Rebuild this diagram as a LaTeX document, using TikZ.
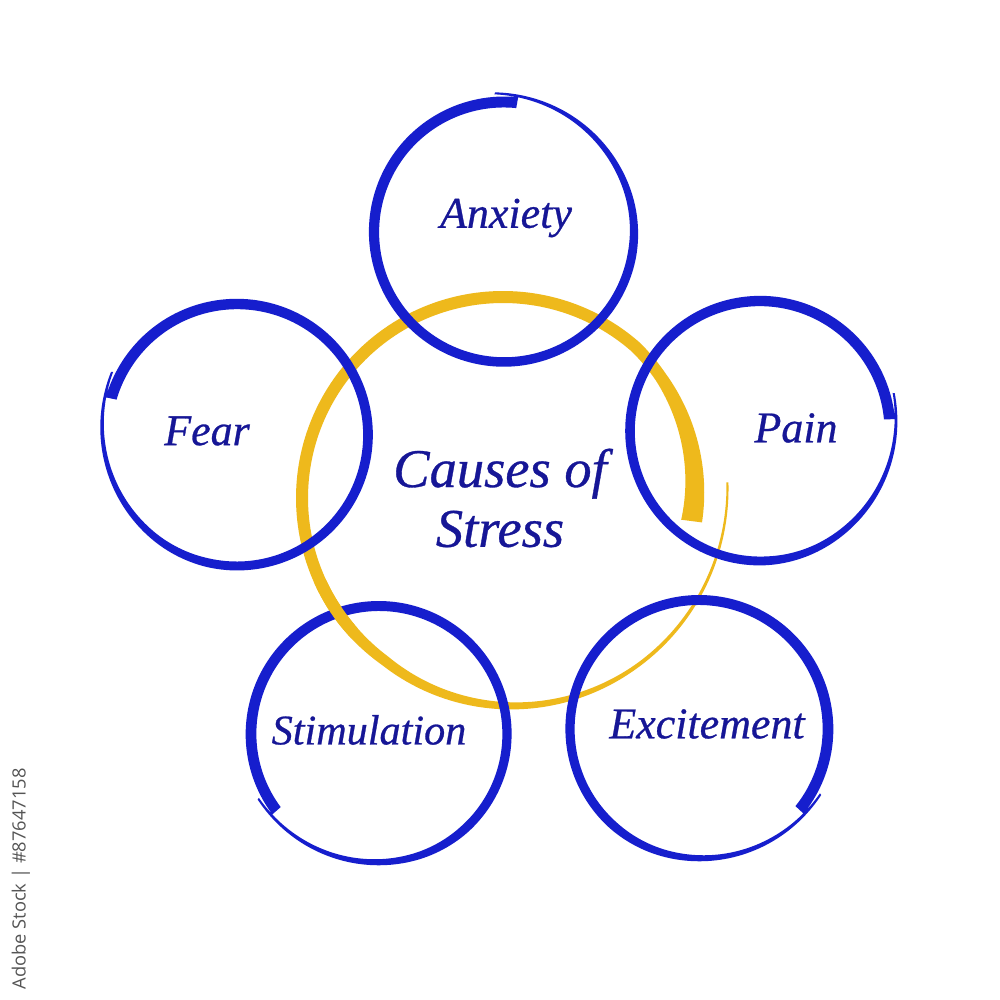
\documentclass[tikz,border=0pt]{standalone}
\usepackage{fontspec}
\setmainfont{Liberation Serif}
\newfontfamily\labelfont{Liberation Serif Italic}[FakeBold=0.6]
\newfontfamily\stockfont{Open Sans}
\usepackage{xcolor}
\usepackage{tikz}

\definecolor{ringblue}{RGB}{22,30,205}
\definecolor{ringyellow}{RGB}{238,185,28}
\definecolor{labelblue}{RGB}{22,22,150}
\definecolor{stockgray}{RGB}{85,85,85}

% brush profile: radius offset and half width along the stroke (t = 0..1)
\pgfmathdeclarefunction{bluer}{1}{\pgfmathparse{9*(max(0,#1-0.8)/0.2)^2}}
\pgfmathdeclarefunction{bluew}{1}{\pgfmathparse{(11-3*#1-6*max(0,(#1-0.72)/0.28))/2}}
\pgfmathdeclarefunction{yellowr}{1}{\pgfmathparse{201-11*max(0,1-#1/0.15)+24*max(0,#1-0.65)/0.35}}
\pgfmathdeclarefunction{yelloww}{1}{\pgfmathparse{(12+9*max(0,1-#1/0.12)-8*min(1,max(0,(#1-0.6)/0.25))-2*max(0,(#1-0.85)/0.15))/2}}

% brush ring: centre x, centre y, radius, start angle, sweep, colour
\newcommand{\brushring}[6]{%
  \fill[#6]
    plot[domain=0:1, samples=200]
      ({#1+(#3+bluer(\x)+bluew(\x))*cos(#4+#5*\x)}, {#2+(#3+bluer(\x)+bluew(\x))*sin(#4+#5*\x)})
    -- plot[domain=1:0, samples=200]
      ({#1+(#3+bluer(\x)-bluew(\x))*cos(#4+#5*\x)}, {#2+(#3+bluer(\x)-bluew(\x))*sin(#4+#5*\x)})
    -- cycle;}

% the yellow ring in the middle
\newcommand{\yellowring}{%
  \fill[ringyellow]
    plot[domain=0:1, samples=260]
      ({503+(yellowr(\x)+yelloww(\x))*cos(-7+371*\x)}, {502+(yellowr(\x)+yelloww(\x))*sin(-7+371*\x)})
    -- plot[domain=1:0, samples=260]
      ({503+(yellowr(\x)-yelloww(\x))*cos(-7+371*\x)}, {502+(yellowr(\x)-yelloww(\x))*sin(-7+371*\x)})
    -- cycle;}

\begin{document}
\begin{tikzpicture}[x=0.01cm, y=0.01cm,
    cause/.style={font=\labelfont\fontsize{12.5}{15}\selectfont, text=labelblue, inner sep=0pt},
    hub/.style={font=\labelfont\fontsize{15.5}{17}\selectfont, text=labelblue, align=center, inner sep=0pt}]
    \useasboundingbox[fill=white] (0,0) rectangle (1000,1000);

    % yellow ring
    \yellowring

    % five blue rings
    \brushring{504}{768}{130}{84}{370}{ringblue}
    \brushring{237}{565}{131}{164}{-371}{ringblue}
    \brushring{760}{569}{130}{5}{371}{ringblue}
    \brushring{379}{266}{128}{217}{-369}{ringblue}
    \brushring{699}{271}{129}{-39}{371}{ringblue}

    % yellow passes over the Stimulation ring at its upper left crossing
    \begin{scope}
        \clip (325,385) circle (35);
        \yellowring
    \end{scope}

    % labels
    \node[hub] (stress) at (500,502) {Causes of\\Stress};
    \node[cause] (anxiety) at (506,782) {Anxiety};
    \node[cause] (fear) at (207,569) {Fear};
    \node[cause] (pain) at (796,572) {Pain};
    \node[cause, font=\labelfont\fontsize{12}{15}\selectfont] (stimulation) at (369,270) {Stimulation};
    \node[cause] (excitement) at (707,276) {Excitement};

    % stock id along the left edge
    \node[rotate=90, anchor=west, font=\stockfont\fontsize{5.2}{6}\selectfont, text=stockgray, inner sep=0pt] (stockid) at (21,10) {Adobe Stock | \#87647158};
\end{tikzpicture}
\end{document}
